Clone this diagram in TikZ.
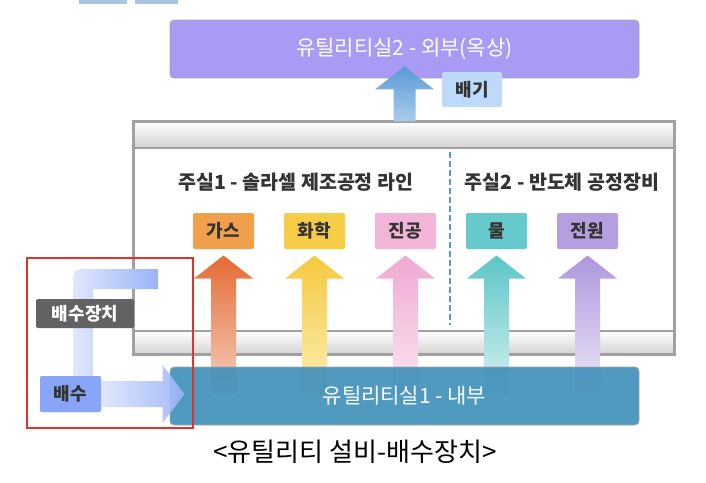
\documentclass[tikz,border=0pt]{standalone}
\usepackage{fontspec}
\setmainfont{Noto Sans CJK KR}
\usetikzlibrary{positioning,calc}

\definecolor{utiltop}{HTML}{A99AF4}
\definecolor{utilbottom}{HTML}{4190BA}
\definecolor{framegray}{HTML}{A0A0A0}
\definecolor{gascol}{HTML}{F0A04B}
\definecolor{chemcol}{HTML}{F7CC47}
\definecolor{vaccol}{HTML}{F2B5D8}
\definecolor{watercol}{HTML}{66C9CB}
\definecolor{powercol}{HTML}{B59FE0}
\definecolor{ventcol}{HTML}{BEDAFB}
\definecolor{draincol}{HTML}{89A5F7}
\definecolor{drainlight}{HTML}{E0E8FC}
\definecolor{unitcol}{HTML}{626262}
\definecolor{dividercol}{HTML}{5B9BD5}
\definecolor{focusred}{HTML}{E8302A}
\definecolor{fragcol}{HTML}{A9C4E0}

\begin{document}
\begin{tikzpicture}[x=1pt, y=-1pt, line width=1pt,
    utilbox/.style={rectangle, rounded corners=4pt, draw=black!35, line width=0.8pt, minimum width=469pt, minimum height=58pt, text=white, font=\fontsize{21}{24}\selectfont},
    tagbox/.style={rectangle, rounded corners=2pt, minimum width=61pt, minimum height=36pt, inner sep=0pt, text=black!80, font=\fontsize{18}{20}\selectfont\bfseries},
    heading/.style={text=black!80, font=\fontsize{19.5}{22}\selectfont\bfseries},
    ]
            \useasboundingbox (0,0) rectangle (706,482);
            % --- fragment of the text above ---
            \fill[fragcol] (79,0) rectangle (127,4);
            \fill[fragcol] (135,0) rectangle (178,4);

            % --- Main room ---
            \node[rectangle, fill=white, minimum width=540pt, minimum height=232pt, inner sep=0pt] (room) at (404,238) {};
            \shade[top color=white, bottom color=black!17, draw=framegray, line width=2pt] (room.north west) rectangle ($(room.north east)+(0,26)$);
            \shade[top color=white, bottom color=black!17, draw=framegray, line width=2pt] ($(room.south west)+(0,-24)$) rectangle (room.south east);
            \draw[framegray, line width=3pt] (room.north west) rectangle (room.south east);

            \coordinate (divtop) at (450,152);
            \coordinate (divbot) at (450,325);
            \draw[dividercol, line width=2.5pt, dash pattern=on 6pt off 3pt] (divtop) -- (divbot);

            \node[heading] (line1) at (296,182) {주실1 - 솔라셀 제조공정 라인};
            \node[heading] (line2) at (562,182) {주실2 - 반도체 공정장비};

            % --- Supply boxes ---
            \node[tagbox, fill=gascol] (gas) at (223.5,231) {가스};
            \node[tagbox, fill=chemcol, right=29pt of gas] (chem) {화학};
            \node[tagbox, fill=vaccol, right=29pt of chem] (vac) {진공};
            \node[tagbox, fill=watercol, right=29pt of vac] (water) {물};
            \node[tagbox, fill=powercol, right=29pt of water] (power) {전원};

            % --- Supply arrows ---
            \shade[top color={rgb,255:red,228;green,107;blue,53}, bottom color={rgb,255:red,246;green,208;blue,190}] ($(gas.south)+(0,6)$) -- ++(29.5,23) -- ++(-17,0) -- ++(0,116) -- ++(-25,0) -- ++(0,-116) -- ++(-17,0) -- cycle;
            \shade[top color={rgb,255:red,246;green,201;blue,62}, bottom color={rgb,255:red,251;green,239;blue,181}] ($(chem.south)+(0,6)$) -- ++(29.5,23) -- ++(-17,0) -- ++(0,116) -- ++(-25,0) -- ++(0,-116) -- ++(-17,0) -- cycle;
            \shade[top color={rgb,255:red,240;green,169;blue,210}, bottom color={rgb,255:red,251;green,230;blue,241}] ($(vac.south)+(0,6)$) -- ++(29.5,23) -- ++(-17,0) -- ++(0,116) -- ++(-25,0) -- ++(0,-116) -- ++(-17,0) -- cycle;
            \shade[top color={rgb,255:red,92;green,197;blue,198}, bottom color={rgb,255:red,214;green,242;blue,242}] ($(water.south)+(0,6)$) -- ++(29.5,23) -- ++(-17,0) -- ++(0,116) -- ++(-25,0) -- ++(0,-116) -- ++(-17,0) -- cycle;
            \shade[top color={rgb,255:red,173;green,151;blue,221}, bottom color={rgb,255:red,238;green,232;blue,248}] ($(power.south)+(0,6)$) -- ++(29.5,23) -- ++(-17,0) -- ++(0,116) -- ++(-25,0) -- ++(0,-116) -- ++(-17,0) -- cycle;

            % --- Utility rooms ---
            \node[utilbox, fill=utilbottom, fill opacity=.92, text opacity=1] (util1) at (404.5,396) {유틸리티실1 - 내부};
            \node[utilbox, fill=utiltop] (util2) at (404.5,49) {유틸리티실2 - 외부(옥상)};

            % --- Exhaust ---
            \shade[top color={rgb,255:red,90;green,154;blue,216}, bottom color={rgb,255:red,169;green,203;blue,236}] ($(util2.south)+(0,-12)$) -- ++(29.5,23) -- ++(-18.5,0) -- ++(0,32) -- ++(-22,0) -- ++(0,-32) -- ++(-18.5,0) -- cycle;
            \node[tagbox, fill=ventcol, minimum width=60pt, minimum height=35pt] (vent) at (472,89.5) {배기};

            % --- Drain ---
            \node[tagbox, fill=draincol] (drain) at (70.5,394) {};
            \shade[left color=drainlight, right color=draincol!85] (73,380) -- (73,285) .. controls (73,269) .. (89,269) -- (158,269) -- (158,289) -- (97,289) .. controls (93,289) .. (93,293) -- (93,380) -- cycle;
            \shade[left color=drainlight, right color=draincol!85, fill opacity=.9] ($(drain.east)+(-6,-13)$) -- ++(67,0) -- ++(0,-16) -- ++(22,29) -- ++(-22,29) -- ++(0,-16) -- ++(-67,0) -- cycle;
            \node[tagbox, fill=draincol] at (drain) {배수};
            \node[tagbox, fill=unitcol, text=white, minimum width=98pt, minimum height=29pt] (drainunit) at (85,313.5) {배수장치};

            \node[draw=focusred, line width=2.5pt, minimum width=166pt, minimum height=170pt, inner sep=0pt] (focus) at (110,343) {};

            % --- Caption ---
            \node[font=\fontsize{26}{30}\selectfont] (caption) at (355,452) {<유틸리티 설비-배수장치>};
\end{tikzpicture}
\end{document}
